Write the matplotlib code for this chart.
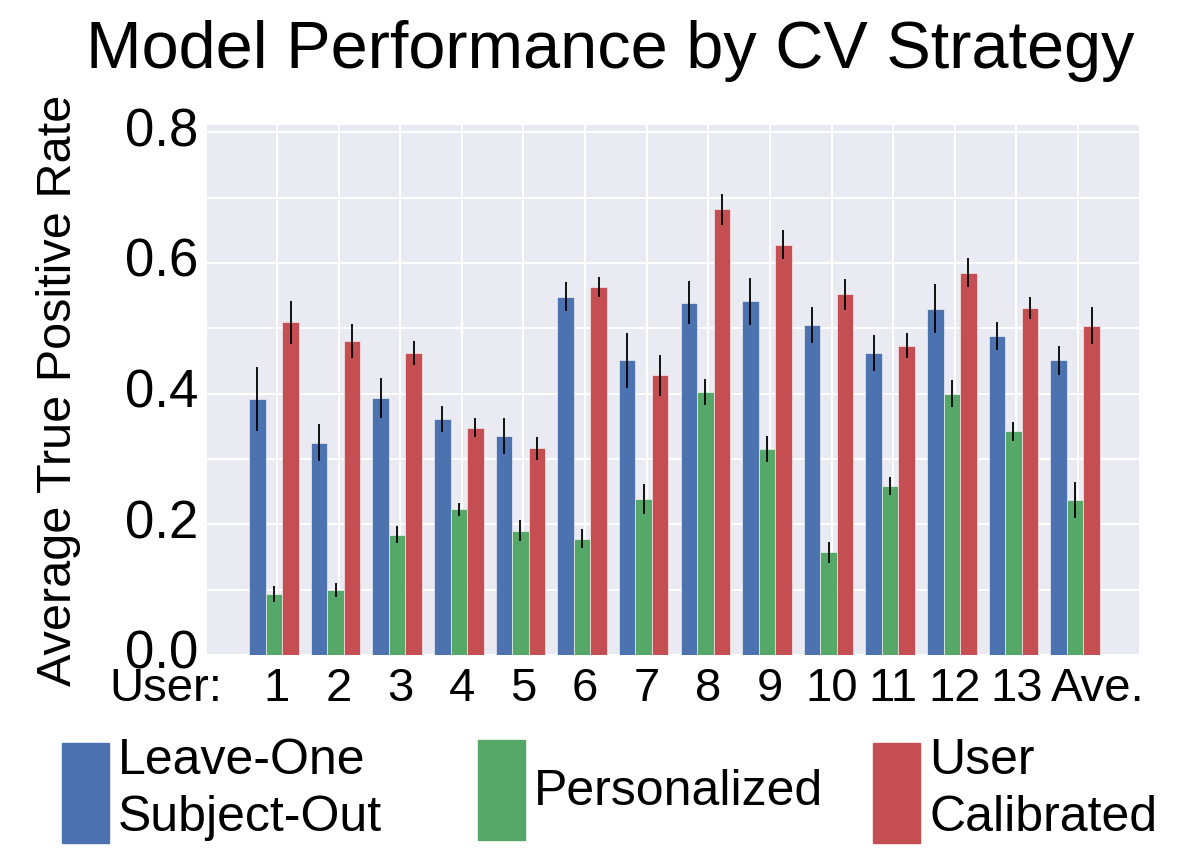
import numpy as np
import matplotlib
matplotlib.use('Agg')
import matplotlib.pyplot as plt
import matplotlib.patches as mpatches
import matplotlib.transforms as mtransforms
import seaborn as sns

sns.set_style('darkgrid')
plt.rcParams['font.family'] = ['Liberation Sans', 'DejaVu Sans']
plt.rcParams['text.color'] = 'black'
plt.rcParams['xtick.color'] = 'black'
plt.rcParams['ytick.color'] = 'black'
plt.rcParams['axes.labelcolor'] = 'black'

users = ['1', '2', '3', '4', '5', '6', '7', '8', '9', '10', '11', '12', '13', 'Ave.']
strategies = ['Leave-One\nSubject-Out', 'Personalized', 'User\nCalibrated']

loso = [0.392, 0.325, 0.393, 0.361, 0.335, 0.548, 0.451, 0.539, 0.541, 0.505, 0.462, 0.530, 0.488, 0.451]
loso_err = [0.049, 0.028, 0.031, 0.020, 0.027, 0.022, 0.042, 0.033, 0.036, 0.027, 0.028, 0.037, 0.022, 0.022]
pers = [0.093, 0.099, 0.184, 0.223, 0.190, 0.178, 0.238, 0.402, 0.315, 0.157, 0.259, 0.400, 0.342, 0.237]
pers_err = [0.012, 0.011, 0.013, 0.010, 0.016, 0.014, 0.023, 0.020, 0.020, 0.016, 0.014, 0.021, 0.014, 0.027]
calib = [0.509, 0.480, 0.462, 0.348, 0.316, 0.563, 0.428, 0.682, 0.628, 0.552, 0.473, 0.585, 0.531, 0.504]
calib_err = [0.033, 0.026, 0.019, 0.014, 0.018, 0.016, 0.031, 0.024, 0.022, 0.024, 0.019, 0.022, 0.017, 0.028]

colors = ['#4C72B0', '#55A868', '#C44E52']

fig = plt.figure(figsize=(11.82, 8.6), dpi=100)
ax = fig.add_axes([0.1751, 0.2384, 0.7885, 0.6163])
ax.set_facecolor('#EAEAF2')

ind = np.arange(len(users))
width = 0.268
series = [(loso, loso_err), (pers, pers_err), (calib, calib_err)]
for i, (vals, errs) in enumerate(series):
    x = ind - 0.45 + i * width
    ax.bar(x, vals, width, align='edge', color=colors[i], edgecolor='white', linewidth=0.4)
    ax.errorbar(x + width / 2, vals, yerr=errs, fmt='none', ecolor='black', elinewidth=1.3, capsize=0)

ax.set_xlim(-1.136, 13.99)
ax.set_ylim(0, 0.811)
ax.set_xticks(ind)
ax.set_xticklabels(users, fontsize=34)
ax.set_yticks([0, 0.2, 0.4, 0.6, 0.8])
ax.set_yticks(np.arange(0.1, 0.8, 0.2), minor=True)
ax.tick_params(axis='y', labelsize=38, length=0, pad=6)
ax.tick_params(axis='x', length=0, pad=9)
ax.grid(True, which='both', color='white', linewidth=1.5)
ax.set_axisbelow(True)
for s in ax.spines.values():
    s.set_visible(False)

# "Ave." sits a little right of its tick in the original, y labels a bit high
ave = ax.get_xticklabels()[-1]
ave.set_transform(ave.get_transform() + mtransforms.ScaledTranslation(14 / 72, 0, fig.dpi_scale_trans))
up = mtransforms.ScaledTranslation(0, 4 / 72, fig.dpi_scale_trans)
for t in ax.get_yticklabels():
    t.set_transform(t.get_transform() + up)

down = mtransforms.ScaledTranslation(0, -9 / 72, fig.dpi_scale_trans)
ax.text(-0.044, 0, 'User:', transform=ax.transAxes + down, ha='center', va='top', fontsize=34)
ax.set_ylabel('Average True Positive Rate', fontsize=35, labelpad=32)
fig.suptitle('Model Performance by CV Strategy', fontsize=48, x=0.516, y=0.921, va='baseline')

# legend, one entry per box so each sits where the original has it
lefts = [0.0525, 0.4044, 0.7386]
for i, lab in enumerate(strategies):
    h = mpatches.Patch(color=colors[i])
    leg = fig.legend([h], [lab], loc='center left', bbox_to_anchor=(lefts[i], 0.081),
                     frameon=False, fontsize=36, handlelength=0.94, handleheight=2.7,
                     handletextpad=0.18, borderpad=0, borderaxespad=0)
    leg.get_texts()[0].set_linespacing(1.3)

fig.savefig('out.png', dpi=100)
